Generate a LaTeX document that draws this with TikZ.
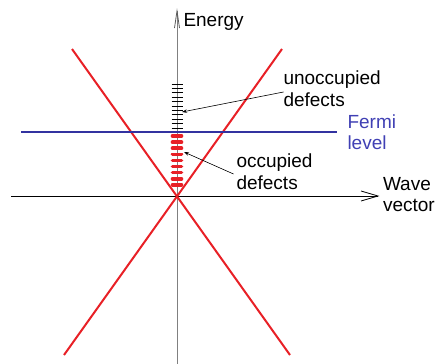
\documentclass[tikz,border=0pt]{standalone}
\usepackage{fontspec}
\setmainfont{Liberation Sans}
\usetikzlibrary{arrows.meta}
\definecolor{bandred}{RGB}{232,32,38}
\definecolor{fermiblue}{RGB}{50,50,160}
\definecolor{fermitext}{RGB}{64,64,180}
\definecolor{axisgray}{RGB}{128,128,128}
\tikzset{
  lbl/.style={inner sep=0pt, outer sep=0pt, align=left, anchor=north west, font=\fontsize{19}{21.6}\selectfont},
  band/.style={draw=bandred, line width=2pt},
  emptylvl/.style={draw=black, line width=0.7pt},
  fulllvl/.style={draw=bandred, line width=3.6pt, line cap=round},
  pointer/.style={draw=black, line width=0.6pt, -{Stealth[length=5pt,width=3.5pt]}}
}
\begin{document}
\begin{tikzpicture}[x=1pt,y=-1pt]
\useasboundingbox (0,0) rectangle (445,364);
% axes
\coordinate (O) at (177,196);
\coordinate (ytop) at (177,11);
\coordinate (ybot) at (177,364);
\coordinate (xleft) at (11,196);
\coordinate (xright) at (378,196);
\draw[axisgray, line width=0.9pt] (ybot) -- (ytop);
\draw[axisgray!70!black, line width=0.8pt] (174.5,28) -- (ytop) -- (179.5,28);
\draw[black, line width=0.8pt] (xleft) -- (xright);
\draw[black, line width=0.8pt] (361,191) -- (xright) -- (361,201);
% bands
\draw[band] (72,49) -- (290,355);
\draw[band] (282,49) -- (64,355);
% Fermi level
\draw[fermiblue, line width=2.4pt] (21,132) -- (337,132);
% unoccupied defect levels
\foreach \k in {0,...,10}{
  \draw[emptylvl] (171.5,84+4.4*\k) -- (182.5,84+4.4*\k);
}
% occupied defect levels
\foreach \k in {0,...,8}{
  \draw[fulllvl] (172.5,136+6.1*\k) -- (181.5,136+6.1*\k);
}
% labels
\node[lbl] (energy) at (183.5,13.4) {Energy};
\node[lbl] (unocc) at (283.5,71.2) {unoccupied\\defects};
\node[lbl, text=fermitext] (fermi) at (347.5,114.6) {Fermi\\level};
\node[lbl] (occ) at (236.5,153.8) {occupied\\defects};
\node[lbl] (wave) at (383,177) {Wave\\vector};
% pointers
\coordinate (unoccEnd) at (182,112);
\coordinate (occEnd) at (184,152);
\draw[pointer] (unocc.west |- 0,92) -- (unoccEnd);
\draw[pointer] ([xshift=-3pt]occ.west |- 0,174) -- (occEnd);
\end{tikzpicture}
\end{document}
